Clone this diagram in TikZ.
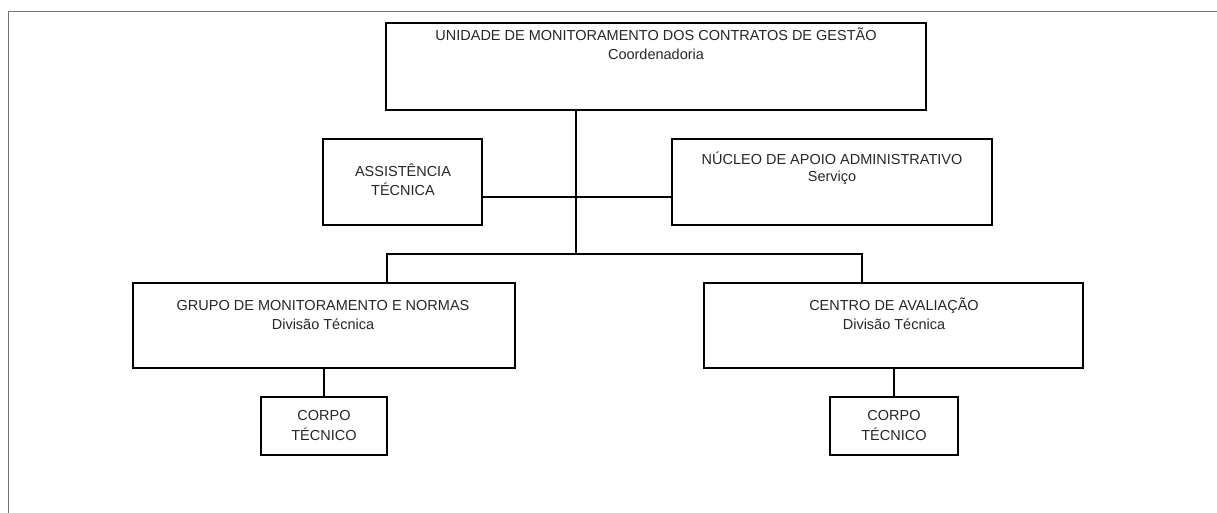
\documentclass[tikz,border=0pt]{standalone}
\usepackage{fontspec}
\setmainfont{Liberation Sans}
\begin{document}
\begin{tikzpicture}[x=1pt,y=-1pt,
  box/.style={draw=black, line width=1.2pt, inner sep=0pt, outer sep=0pt},
  conn/.style={draw=black, line width=1.2pt},
  frameline/.style={draw=black!55, line width=1pt},
  lbl/.style={font=\fontsize{14.5}{17}\selectfont, inner sep=0pt, anchor=base, text=black!85}]
\useasboundingbox (0,0) rectangle (1217,513);
% outer frame
\coordinate (fTR) at (1217,12);
\coordinate (fTL) at (8,12);
\coordinate (fBL) at (8,513);
\draw[frameline] (fTR) -- (fTL) -- (fBL);
% boxes
\node[box, minimum width=540pt, minimum height=87pt] (top) at (656,66.5) {};
\node[box, minimum width=159pt, minimum height=86pt] (asst) at (402.5,182) {};
\node[box, minimum width=320pt, minimum height=86pt] (nucleo) at (832,182) {};
\node[box, minimum width=382pt, minimum height=85pt] (grupo) at (324,325.5) {};
\node[box, minimum width=379pt, minimum height=85pt] (centro) at (893.5,325.5) {};
\node[box, minimum width=126pt, minimum height=58pt] (corpoA) at (324,426) {};
\node[box, minimum width=128pt, minimum height=58pt] (corpoB) at (894,426) {};
% texts
\node[lbl] (topT1) at (656,41) {UNIDADE DE MONITORAMENTO DOS CONTRATOS DE GESTÃO};
\node[lbl] (topT2) at (656,60) {Coordenadoria};
\node[lbl] (asstT1) at (403,177) {ASSISTÊNCIA};
\node[lbl] (asstT2) at (403,196) {TÉCNICA};
\node[lbl] (nucT1) at (832,165) {NÚCLEO DE APOIO ADMINISTRATIVO};
\node[lbl] (nucT2) at (832,182) {Serviço};
\node[lbl] (grpT1) at (323,310) {GRUPO DE MONITORAMENTO E NORMAS};
\node[lbl] (grpT2) at (323,329) {Divisão Técnica};
\node[lbl] (cenT1) at (894,310) {CENTRO DE AVALIAÇÃO};
\node[lbl] (cenT2) at (894,329) {Divisão Técnica};
\node[lbl] (cpAT1) at (324,420) {CORPO};
\node[lbl] (cpAT2) at (324,440) {TÉCNICO};
\node[lbl] (cpBT1) at (894,420) {CORPO};
\node[lbl] (cpBT2) at (894,440) {TÉCNICO};
% junctions
\coordinate (bj) at (576,254);
\coordinate (mid) at (576,197);
\coordinate (bL) at (387,254);
\coordinate (bR) at (862,254);
% connectors
\draw[conn] (top.south -| bj) -- (bj);
\draw[conn] (asst.east |- mid) -- (nucleo.west |- mid);
\draw[conn] (grupo.north -| bL) -- (bL) -- (bR) -- (centro.north -| bR);
\draw[conn] (grupo.south -| corpoA.north) -- (corpoA.north);
\draw[conn] (centro.south -| corpoB.north) -- (corpoB.north);
\end{tikzpicture}
\end{document}
